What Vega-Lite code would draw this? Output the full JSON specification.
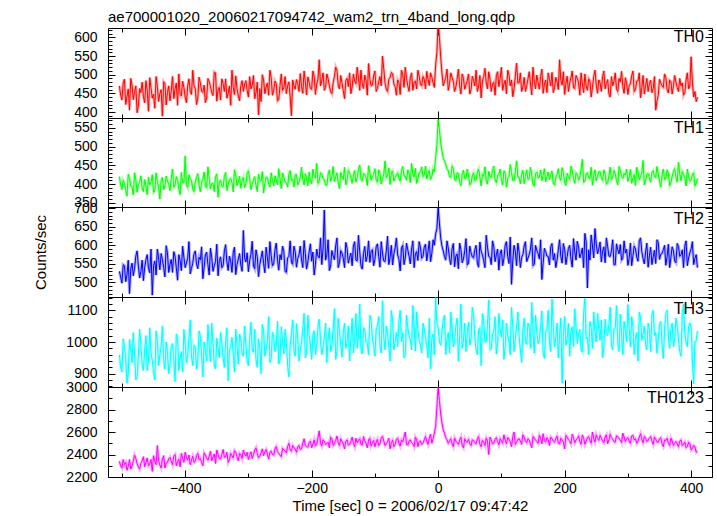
{
"$schema": "https://vega.github.io/schema/vega-lite/v6.json",
"padding": {"left": 32, "top": 10, "right": 5, "bottom": 0},
"spacing": 0,
"bounds": "flush",
"title": {"text": "ae700001020_20060217094742_wam2_trn_4band_long.qdp", "anchor": "start", "frame": "group", "offset": 2, "fontSize": 15, "fontWeight": "normal", "font": "Liberation Sans", "color": "#000"},
"config": {
  "view": {"stroke": "#000", "strokeWidth": 1},
  "font": "Liberation Sans",
  "axis": {"domain": false, "grid": false, "tickColor": "#000", "tickWidth": 1, "labelFont": "Liberation Sans", "labelFontSize": 14, "labelColor": "#000", "titleFont": "Liberation Sans", "titleFontSize": 15, "titleFontWeight": "normal", "titleColor": "#000", "labelOverlap": false, "labelFlush": false}
},
"data": {"values": [
{"t":-504,"a":470,"b":420,"c":530,"d":960,"e":2340},
{"t":-500,"a":432,"b":385,"c":498,"d":905,"e":2280},
{"t":-496,"a":488,"b":402,"c":545,"d":985,"e":2310},
{"t":-492,"a":441,"b":368,"c":520,"d":870,"e":2260},
{"t":-488,"a":405,"b":415,"c":470,"d":1008,"e":2355},
{"t":-484,"a":472,"b":393,"c":552,"d":935,"e":2300},
{"t":-480,"a":455,"b":430,"c":538,"d":962,"e":2395},
{"t":-476,"a":398,"b":378,"c":585,"d":890,"e":2320},
{"t":-472,"a":463,"b":404,"c":512,"d":1040,"e":2270},
{"t":-468,"a":480,"b":389,"c":560,"d":928,"e":2345},
{"t":-464,"a":425,"b":412,"c":541,"d":975,"e":2290},
{"t":-460,"a":458,"b":372,"c":575,"d":910,"e":2370},
{"t":-456,"a":492,"b":398,"c":526,"d":1045,"e":2315},
{"t":-452,"a":437,"b":425,"c":466,"d":942,"e":2250},
{"t":-448,"a":410,"b":381,"c":558,"d":880,"e":2340},
{"t":-444,"a":468,"b":406,"c":590,"d":1002,"e":2480},
{"t":-440,"a":449,"b":360,"c":534,"d":958,"e":2305},
{"t":-436,"a":389,"b":418,"c":562,"d":1050,"e":2360},
{"t":-432,"a":476,"b":395,"c":515,"d":915,"e":2280},
{"t":-428,"a":452,"b":408,"c":580,"d":968,"e":2330},
{"t":-424,"a":430,"b":383,"c":548,"d":930,"e":2375},
{"t":-420,"a":495,"b":440,"c":527,"d":995,"e":2310},
{"t":-416,"a":461,"b":397,"c":571,"d":875,"e":2400},
{"t":-412,"a":418,"b":410,"c":506,"d":1012,"e":2335},
{"t":-408,"a":447,"b":372,"c":559,"d":948,"e":2290},
{"t":-404,"a":483,"b":403,"c":598,"d":905,"e":2365},
{"t":-400,"a":440,"b":475,"c":540,"d":990,"e":2420},
{"t":-396,"a":470,"b":391,"c":565,"d":960,"e":2350},
{"t":-392,"a":455,"b":414,"c":523,"d":1070,"e":2310},
{"t":-388,"a":512,"b":386,"c":552,"d":925,"e":2385},
{"t":-384,"a":462,"b":405,"c":585,"d":985,"e":2340},
{"t":-380,"a":438,"b":428,"c":537,"d":945,"e":2410},
{"t":-376,"a":478,"b":380,"c":561,"d":1018,"e":2365},
{"t":-372,"a":452,"b":412,"c":510,"d":890,"e":2300},
{"t":-368,"a":425,"b":395,"c":574,"d":972,"e":2395},
{"t":-364,"a":490,"b":446,"c":548,"d":1055,"e":2350},
{"t":-360,"a":468,"b":388,"c":592,"d":938,"e":2430},
{"t":-356,"a":444,"b":402,"c":530,"d":996,"e":2375},
{"t":-352,"a":505,"b":420,"c":556,"d":915,"e":2320},
{"t":-348,"a":459,"b":365,"c":518,"d":980,"e":2400},
{"t":-344,"a":432,"b":410,"c":569,"d":1030,"e":2360},
{"t":-340,"a":476,"b":392,"c":545,"d":950,"e":2445},
{"t":-336,"a":489,"b":431,"c":602,"d":1002,"e":2380},
{"t":-332,"a":450,"b":398,"c":532,"d":878,"e":2330},
{"t":-328,"a":418,"b":415,"c":558,"d":985,"e":2410},
{"t":-324,"a":466,"b":379,"c":580,"d":962,"e":2370},
{"t":-320,"a":497,"b":424,"c":521,"d":1040,"e":2420},
{"t":-316,"a":443,"b":405,"c":563,"d":930,"e":2345},
{"t":-312,"a":471,"b":389,"c":547,"d":1008,"e":2395},
{"t":-308,"a":455,"b":418,"c":640,"d":955,"e":2440},
{"t":-304,"a":484,"b":402,"c":555,"d":990,"e":2385},
{"t":-300,"a":440,"b":435,"c":529,"d":925,"e":2355},
{"t":-296,"a":462,"b":385,"c":576,"d":1062,"e":2425},
{"t":-292,"a":498,"b":411,"c":544,"d":968,"e":2400},
{"t":-288,"a":451,"b":397,"c":588,"d":945,"e":2460},
{"t":-284,"a":392,"b":426,"c":516,"d":1010,"e":2370},
{"t":-280,"a":428,"b":408,"c":566,"d":900,"e":2415},
{"t":-276,"a":486,"b":376,"c":551,"d":1035,"e":2390},
{"t":-272,"a":467,"b":419,"c":595,"d":975,"e":2445},
{"t":-268,"a":445,"b":400,"c":538,"d":1080,"e":2360},
{"t":-264,"a":492,"b":430,"c":572,"d":948,"e":2430},
{"t":-260,"a":458,"b":395,"c":549,"d":1015,"e":2395},
{"t":-256,"a":476,"b":412,"c":606,"d":985,"e":2470},
{"t":-252,"a":433,"b":441,"c":533,"d":930,"e":2410},
{"t":-248,"a":502,"b":388,"c":561,"d":1048,"e":2380},
{"t":-244,"a":465,"b":418,"c":584,"d":962,"e":2440},
{"t":-240,"a":449,"b":403,"c":527,"d":1005,"e":2415},
{"t":-236,"a":481,"b":427,"c":570,"d":890,"e":2500},
{"t":-232,"a":390,"b":410,"c":554,"d":1025,"e":2430},
{"t":-228,"a":470,"b":392,"c":598,"d":972,"e":2460},
{"t":-224,"a":487,"b":425,"c":541,"d":1058,"e":2420},
{"t":-220,"a":455,"b":406,"c":575,"d":940,"e":2480},
{"t":-216,"a":468,"b":445,"c":560,"d":1000,"e":2450},
{"t":-212,"a":510,"b":398,"c":613,"d":1090,"e":2540},
{"t":-208,"a":446,"b":416,"c":536,"d":965,"e":2470},
{"t":-204,"a":479,"b":432,"c":582,"d":1020,"e":2505},
{"t":-200,"a":461,"b":401,"c":557,"d":945,"e":2460},
{"t":-196,"a":496,"b":420,"c":520,"d":1035,"e":2530},
{"t":-192,"a":475,"b":455,"c":590,"d":988,"e":2490},
{"t":-188,"a":540,"b":409,"c":566,"d":1072,"e":2610},
{"t":-184,"a":483,"b":427,"c":548,"d":960,"e":2475},
{"t":-180,"a":458,"b":412,"c":695,"d":1012,"e":2520},
{"t":-176,"a":502,"b":396,"c":574,"d":935,"e":2495},
{"t":-172,"a":470,"b":438,"c":532,"d":1045,"e":2460},
{"t":-168,"a":449,"b":419,"c":586,"d":990,"e":2540},
{"t":-164,"a":495,"b":407,"c":561,"d":1105,"e":2500},
{"t":-160,"a":512,"b":430,"c":620,"d":970,"e":2565},
{"t":-156,"a":462,"b":388,"c":553,"d":1028,"e":2480},
{"t":-152,"a":478,"b":422,"c":579,"d":952,"e":2515},
{"t":-148,"a":436,"b":445,"c":540,"d":1060,"e":2450},
{"t":-144,"a":490,"b":411,"c":592,"d":1000,"e":2530},
{"t":-140,"a":505,"b":428,"c":567,"d":940,"e":2490},
{"t":-136,"a":467,"b":402,"c":545,"d":1075,"e":2555},
{"t":-132,"a":483,"b":436,"c":610,"d":1015,"e":2470},
{"t":-128,"a":520,"b":418,"c":558,"d":980,"e":2505},
{"t":-124,"a":458,"b":451,"c":583,"d":1120,"e":2540},
{"t":-120,"a":476,"b":409,"c":536,"d":962,"e":2485},
{"t":-116,"a":499,"b":425,"c":597,"d":1038,"e":2520},
{"t":-112,"a":445,"b":396,"c":571,"d":995,"e":2460},
{"t":-108,"a":488,"b":432,"c":554,"d":1085,"e":2545},
{"t":-104,"a":472,"b":420,"c":588,"d":1010,"e":2500},
{"t":-100,"a":510,"b":441,"c":562,"d":955,"e":2470},
{"t":-96,"a":463,"b":405,"c":604,"d":1050,"e":2535},
{"t":-92,"a":495,"b":428,"c":541,"d":988,"e":2495},
{"t":-88,"a":550,"b":415,"c":579,"d":1130,"e":2560},
{"t":-84,"a":478,"b":462,"c":556,"d":975,"e":2480},
{"t":-80,"a":455,"b":422,"c":625,"d":1025,"e":2515},
{"t":-76,"a":492,"b":399,"c":568,"d":940,"e":2450},
{"t":-72,"a":503,"b":435,"c":547,"d":1068,"e":2525},
{"t":-68,"a":468,"b":418,"c":593,"d":1002,"e":2490},
{"t":-64,"a":486,"b":430,"c":574,"d":985,"e":2545},
{"t":-60,"a":447,"b":409,"c":531,"d":1100,"e":2475},
{"t":-56,"a":501,"b":447,"c":600,"d":1030,"e":2510},
{"t":-52,"a":520,"b":421,"c":566,"d":960,"e":2600},
{"t":-48,"a":470,"b":438,"c":588,"d":1045,"e":2485},
{"t":-44,"a":492,"b":404,"c":550,"d":1008,"e":2530},
{"t":-40,"a":458,"b":426,"c":612,"d":1115,"e":2495},
{"t":-36,"a":483,"b":442,"c":577,"d":972,"e":2555},
{"t":-32,"a":512,"b":415,"c":559,"d":1040,"e":2470},
{"t":-28,"a":475,"b":433,"c":595,"d":990,"e":2520},
{"t":-24,"a":495,"b":420,"c":570,"d":1060,"e":2500},
{"t":-20,"a":462,"b":448,"c":603,"d":1015,"e":2560},
{"t":-16,"a":487,"b":428,"c":584,"d":950,"e":2490},
{"t":-12,"a":505,"b":412,"c":556,"d":915,"e":2580},
{"t":-8,"a":478,"b":440,"c":615,"d":1025,"e":2540},
{"t":-4,"a":525,"b":470,"c":630,"d":1140,"e":2650},
{"t":0,"a":640,"b":572,"c":702,"d":1045,"e":3000},
{"t":4,"a":548,"b":510,"c":620,"d":990,"e":2760},
{"t":8,"a":470,"b":470,"c":585,"d":1070,"e":2620},
{"t":12,"a":492,"b":452,"c":560,"d":960,"e":2550},
{"t":16,"a":458,"b":435,"c":592,"d":1030,"e":2500},
{"t":20,"a":505,"b":418,"c":548,"d":1095,"e":2540},
{"t":24,"a":482,"b":442,"c":605,"d":985,"e":2470},
{"t":28,"a":467,"b":409,"c":571,"d":1050,"e":2520},
{"t":32,"a":515,"b":428,"c":537,"d":940,"e":2490},
{"t":36,"a":448,"b":396,"c":589,"d":1120,"e":2555},
{"t":40,"a":490,"b":437,"c":563,"d":1005,"e":2460},
{"t":44,"a":473,"b":415,"c":618,"d":970,"e":2515},
{"t":48,"a":502,"b":423,"c":552,"d":1062,"e":2535},
{"t":52,"a":460,"b":402,"c":580,"d":1010,"e":2480},
{"t":56,"a":485,"b":430,"c":566,"d":1085,"e":2525},
{"t":60,"a":512,"b":412,"c":600,"d":975,"e":2495},
{"t":64,"a":470,"b":440,"c":541,"d":1040,"e":2560},
{"t":68,"a":438,"b":395,"c":584,"d":925,"e":2470},
{"t":72,"a":495,"b":421,"c":559,"d":1068,"e":2510},
{"t":76,"a":478,"b":408,"c":627,"d":1000,"e":2545},
{"t":80,"a":508,"b":434,"c":570,"d":1132,"e":2400},
{"t":84,"a":455,"b":418,"c":548,"d":980,"e":2530},
{"t":88,"a":480,"b":448,"c":596,"d":1035,"e":2500},
{"t":92,"a":497,"b":404,"c":575,"d":962,"e":2550},
{"t":96,"a":468,"b":427,"c":533,"d":1090,"e":2485},
{"t":100,"a":520,"b":413,"c":588,"d":1015,"e":2520},
{"t":104,"a":475,"b":436,"c":564,"d":945,"e":2575},
{"t":108,"a":449,"b":392,"c":610,"d":1060,"e":2495},
{"t":112,"a":500,"b":420,"c":551,"d":1002,"e":2535},
{"t":116,"a":486,"b":431,"c":495,"d":1110,"e":2470},
{"t":120,"a":462,"b":409,"c":600,"d":970,"e":2600},
{"t":124,"a":531,"b":462,"c":545,"d":1045,"e":2510},
{"t":128,"a":478,"b":418,"c":582,"d":1018,"e":2540},
{"t":132,"a":455,"b":426,"c":567,"d":935,"e":2490},
{"t":136,"a":493,"b":401,"c":598,"d":1075,"e":2555},
{"t":140,"a":470,"b":438,"c":556,"d":992,"e":2505},
{"t":144,"a":508,"b":415,"c":575,"d":1050,"e":2530},
{"t":148,"a":446,"b":424,"c":620,"d":1125,"e":2460},
{"t":152,"a":482,"b":395,"c":549,"d":965,"e":2545},
{"t":156,"a":499,"b":432,"c":586,"d":1030,"e":2515},
{"t":160,"a":461,"b":418,"c":563,"d":1008,"e":2570},
{"t":164,"a":515,"b":409,"c":508,"d":1098,"e":2495},
{"t":168,"a":475,"b":441,"c":592,"d":948,"e":2525},
{"t":172,"a":452,"b":420,"c":571,"d":1042,"e":2550},
{"t":176,"a":488,"b":412,"c":547,"d":1000,"e":2480},
{"t":180,"a":506,"b":435,"c":605,"d":1135,"e":2540},
{"t":184,"a":465,"b":398,"c":578,"d":985,"e":2510},
{"t":188,"a":480,"b":426,"c":560,"d":1060,"e":2565},
{"t":192,"a":540,"b":417,"c":615,"d":1020,"e":2495},
{"t":196,"a":472,"b":444,"c":552,"d":870,"e":2530},
{"t":200,"a":447,"b":405,"c":589,"d":1080,"e":2450},
{"t":204,"a":496,"b":429,"c":570,"d":1012,"e":2555},
{"t":208,"a":478,"b":413,"c":600,"d":955,"e":2520},
{"t":212,"a":510,"b":437,"c":541,"d":1048,"e":2580},
{"t":216,"a":463,"b":402,"c":582,"d":1105,"e":2505},
{"t":220,"a":490,"b":425,"c":611,"d":995,"e":2540},
{"t":224,"a":445,"b":419,"c":566,"d":1040,"e":2515},
{"t":228,"a":475,"b":466,"c":593,"d":968,"e":2575},
{"t":232,"a":502,"b":408,"c":632,"d":1138,"e":2490},
{"t":236,"a":458,"b":430,"c":485,"d":1015,"e":2550},
{"t":240,"a":483,"b":414,"c":560,"d":1065,"e":2525},
{"t":244,"a":466,"b":397,"c":598,"d":980,"e":2600},
{"t":248,"a":512,"b":438,"c":645,"d":1030,"e":2510},
{"t":252,"a":450,"b":421,"c":577,"d":1090,"e":2545},
{"t":256,"a":478,"b":433,"c":609,"d":1005,"e":2570},
{"t":260,"a":495,"b":410,"c":584,"d":950,"e":2520},
{"t":264,"a":462,"b":426,"c":553,"d":1072,"e":2555},
{"t":268,"a":487,"b":404,"c":597,"d":1020,"e":2495},
{"t":272,"a":440,"b":445,"c":570,"d":1110,"e":2580},
{"t":276,"a":470,"b":419,"c":615,"d":975,"e":2535},
{"t":280,"a":505,"b":428,"c":548,"d":1045,"e":2510},
{"t":284,"a":455,"b":398,"c":588,"d":1000,"e":2560},
{"t":288,"a":480,"b":436,"c":602,"d":1088,"e":2530},
{"t":292,"a":468,"b":415,"c":565,"d":960,"e":2590},
{"t":296,"a":492,"b":424,"c":579,"d":1035,"e":2515},
{"t":300,"a":447,"b":407,"c":546,"d":1118,"e":2550},
{"t":304,"a":476,"b":439,"c":606,"d":985,"e":2500},
{"t":308,"a":510,"b":417,"c":572,"d":1050,"e":2570},
{"t":312,"a":460,"b":396,"c":590,"d":1012,"e":2540},
{"t":316,"a":483,"b":432,"c":557,"d":940,"e":2520},
{"t":320,"a":438,"b":420,"c":620,"d":1078,"e":2585},
{"t":324,"a":498,"b":463,"c":564,"d":1025,"e":2505},
{"t":328,"a":470,"b":411,"c":582,"d":992,"e":2545},
{"t":332,"a":455,"b":428,"c":541,"d":1060,"e":2525},
{"t":336,"a":485,"b":405,"c":595,"d":970,"e":2560},
{"t":340,"a":462,"b":436,"c":569,"d":1100,"e":2490},
{"t":344,"a":405,"b":418,"c":551,"d":1030,"e":2535},
{"t":348,"a":445,"b":426,"c":608,"d":1005,"e":2510},
{"t":352,"a":478,"b":392,"c":576,"d":1065,"e":2550},
{"t":356,"a":466,"b":440,"c":588,"d":948,"e":2470},
{"t":360,"a":492,"b":415,"c":546,"d":1090,"e":2525},
{"t":364,"a":451,"b":429,"c":603,"d":1018,"e":2500},
{"t":368,"a":482,"b":403,"c":567,"d":1040,"e":2545},
{"t":372,"a":470,"b":434,"c":585,"d":985,"e":2480},
{"t":376,"a":480,"b":418,"c":553,"d":1075,"e":2515},
{"t":380,"a":455,"b":458,"c":597,"d":1010,"e":2470},
{"t":384,"a":470,"b":409,"c":574,"d":955,"e":2530},
{"t":388,"a":445,"b":426,"c":540,"d":1120,"e":2490},
{"t":392,"a":486,"b":395,"c":612,"d":1000,"e":2460},
{"t":396,"a":462,"b":420,"c":566,"d":1050,"e":2510},
{"t":400,"a":548,"b":412,"c":590,"d":1045,"e":2440},
{"t":404,"a":440,"b":430,"c":548,"d":868,"e":2480},
{"t":408,"a":428,"b":402,"c":575,"d":1005,"e":2420},
{"t":-502,"a":445,"b":398,"c":515,"d":920,"e":2300},
{"t":-498,"a":478,"b":410,"c":548,"d":1010,"e":2355},
{"t":-494,"a":420,"b":383,"c":502,"d":945,"e":2330},
{"t":-490,"a":462,"b":426,"c":560,"d":900,"e":2295},
{"t":-486,"a":490,"b":395,"c":537,"d":975,"e":2270},
{"t":-482,"a":433,"b":371,"c":518,"d":1030,"e":2340},
{"t":-478,"a":470,"b":412,"c":571,"d":880,"e":2365},
{"t":-474,"a":415,"b":400,"c":545,"d":955,"e":2290},
{"t":-470,"a":452,"b":422,"c":530,"d":990,"e":2320},
{"t":-466,"a":441,"b":380,"c":505,"d":910,"e":2380},
{"t":-462,"a":484,"b":395,"c":562,"d":1020,"e":2330},
{"t":-458,"a":402,"b":418,"c":538,"d":940,"e":2300},
{"t":-454,"a":465,"b":404,"c":590,"d":965,"e":2355},
{"t":-450,"a":448,"b":378,"c":545,"d":905,"e":2390},
{"t":-446,"a":495,"b":430,"c":520,"d":1035,"e":2310},
{"t":-442,"a":428,"b":392,"c":566,"d":925,"e":2345},
{"t":-438,"a":460,"b":410,"c":578,"d":985,"e":2280},
{"t":-434,"a":481,"b":385,"c":540,"d":940,"e":2390},
{"t":-430,"a":419,"b":421,"c":599,"d":1000,"e":2325},
{"t":-426,"a":470,"b":399,"c":527,"d":900,"e":2360},
{"t":-422,"a":455,"b":415,"c":562,"d":985,"e":2340},
{"t":-418,"a":436,"b":392,"c":583,"d":950,"e":2385},
{"t":-414,"a":478,"b":420,"c":540,"d":1025,"e":2300},
{"t":-410,"a":502,"b":386,"c":575,"d":910,"e":2360},
{"t":-406,"a":443,"b":431,"c":532,"d":970,"e":2410},
{"t":-402,"a":466,"b":405,"c":568,"d":1040,"e":2330},
{"t":-398,"a":425,"b":398,"c":552,"d":935,"e":2375},
{"t":-394,"a":489,"b":425,"c":610,"d":1010,"e":2395},
{"t":-390,"a":447,"b":410,"c":538,"d":955,"e":2350},
{"t":-386,"a":471,"b":380,"c":577,"d":990,"e":2330},
{"t":-382,"a":420,"b":418,"c":550,"d":915,"e":2390},
{"t":-378,"a":493,"b":396,"c":568,"d":1035,"e":2355},
{"t":-374,"a":456,"b":405,"c":596,"d":960,"e":2330},
{"t":-370,"a":472,"b":432,"c":541,"d":1000,"e":2415},
{"t":-366,"a":438,"b":390,"c":582,"d":940,"e":2370},
{"t":-362,"a":481,"b":414,"c":520,"d":985,"e":2385},
{"t":-358,"a":452,"b":401,"c":567,"d":1060,"e":2345},
{"t":-354,"a":507,"b":380,"c":545,"d":925,"e":2405},
{"t":-350,"a":429,"b":427,"c":603,"d":1012,"e":2440},
{"t":-346,"a":466,"b":408,"c":559,"d":950,"e":2365},
{"t":-342,"a":489,"b":395,"c":540,"d":995,"e":2400},
{"t":-338,"a":455,"b":420,"c":585,"d":920,"e":2375},
{"t":-334,"a":437,"b":383,"c":555,"d":1045,"e":2420},
{"t":-330,"a":470,"b":412,"c":571,"d":975,"e":2355},
{"t":-326,"a":512,"b":404,"c":527,"d":1015,"e":2390},
{"t":-322,"a":447,"b":438,"c":595,"d":905,"e":2435},
{"t":-318,"a":462,"b":396,"c":548,"d":990,"e":2380},
{"t":-314,"a":430,"b":421,"c":578,"d":1025,"e":2410},
{"t":-310,"a":484,"b":410,"c":530,"d":965,"e":2365},
{"t":-306,"a":475,"b":390,"c":566,"d":1050,"e":2405},
{"t":-302,"a":458,"b":428,"c":580,"d":940,"e":2420},
{"t":-298,"a":495,"b":414,"c":559,"d":1010,"e":2390},
{"t":-294,"a":472,"b":399,"c":611,"d":975,"e":2365},
{"t":-290,"a":436,"b":420,"c":537,"d":1040,"e":2440},
{"t":-286,"a":480,"b":380,"c":570,"d":920,"e":2410},
{"t":-282,"a":463,"b":412,"c":548,"d":985,"e":2385},
{"t":-278,"a":500,"b":433,"c":585,"d":1055,"e":2450},
{"t":-274,"a":449,"b":402,"c":526,"d":955,"e":2425},
{"t":-270,"a":478,"b":417,"c":567,"d":1005,"e":2400},
{"t":-266,"a":512,"b":392,"c":610,"d":935,"e":2420},
{"t":-262,"a":445,"b":410,"c":545,"d":1030,"e":2400},
{"t":-258,"a":483,"b":422,"c":588,"d":970,"e":2450},
{"t":-254,"a":430,"b":398,"c":560,"d":1065,"e":2425},
{"t":-250,"a":471,"b":415,"c":575,"d":945,"e":2395},
{"t":-246,"a":458,"b":430,"c":598,"d":1000,"e":2455},
{"t":-242,"a":495,"b":405,"c":530,"d":1040,"e":2435},
{"t":-238,"a":470,"b":392,"c":566,"d":925,"e":2470},
{"t":-234,"a":442,"b":436,"c":612,"d":990,"e":2440},
{"t":-230,"a":486,"b":414,"c":549,"d":1070,"e":2480},
{"t":-226,"a":461,"b":425,"c":583,"d":955,"e":2450},
{"t":-222,"a":476,"b":398,"c":565,"d":1010,"e":2470},
{"t":-218,"a":503,"b":418,"c":598,"d":975,"e":2445},
{"t":-214,"a":450,"b":412,"c":540,"d":1040,"e":2500},
{"t":-210,"a":481,"b":428,"c":578,"d":950,"e":2480},
{"t":-206,"a":494,"b":395,"c":555,"d":1085,"e":2465},
{"t":-202,"a":463,"b":409,"c":604,"d":990,"e":2520},
{"t":-198,"a":510,"b":440,"c":582,"d":1025,"e":2495},
{"t":-194,"a":447,"b":416,"c":549,"d":960,"e":2475},
{"t":-190,"a":488,"b":402,"c":571,"d":1050,"e":2550},
{"t":-186,"a":470,"b":430,"c":620,"d":1005,"e":2500},
{"t":-182,"a":505,"b":414,"c":590,"d":985,"e":2530},
{"t":-178,"a":466,"b":398,"c":560,"d":1060,"e":2490},
{"t":-174,"a":489,"b":426,"c":615,"d":1010,"e":2510},
{"t":-170,"a":455,"b":408,"c":545,"d":970,"e":2555},
{"t":-166,"a":478,"b":447,"c":571,"d":1040,"e":2480},
{"t":-162,"a":520,"b":420,"c":598,"d":945,"e":2525},
{"t":-158,"a":471,"b":405,"c":540,"d":1075,"e":2505},
{"t":-154,"a":498,"b":431,"c":586,"d":995,"e":2540},
{"t":-150,"a":457,"b":412,"c":565,"d":1030,"e":2495},
{"t":-146,"a":485,"b":398,"c":608,"d":980,"e":2520},
{"t":-142,"a":468,"b":436,"c":552,"d":1050,"e":2485},
{"t":-138,"a":449,"b":417,"c":579,"d":1010,"e":2515},
{"t":-134,"a":502,"b":425,"c":598,"d":965,"e":2500},
{"t":-130,"a":476,"b":405,"c":560,"d":1090,"e":2545},
{"t":-126,"a":491,"b":440,"c":627,"d":1020,"e":2525},
{"t":-122,"a":512,"b":412,"c":545,"d":975,"e":2490},
{"t":-118,"a":463,"b":428,"c":578,"d":1045,"e":2560},
{"t":-114,"a":485,"b":418,"c":556,"d":1000,"e":2500},
{"t":-110,"a":530,"b":449,"c":612,"d":960,"e":2530},
{"t":-106,"a":470,"b":410,"c":584,"d":1070,"e":2475},
{"t":-102,"a":497,"b":426,"c":545,"d":990,"e":2525},
{"t":-98,"a":455,"b":412,"c":596,"d":1040,"e":2510},
{"t":-94,"a":482,"b":438,"c":570,"d":1080,"e":2480},
{"t":-90,"a":470,"b":400,"c":610,"d":965,"e":2550},
{"t":-86,"a":515,"b":425,"c":558,"d":1015,"e":2520},
{"t":-82,"a":461,"b":417,"c":585,"d":1050,"e":2495},
{"t":-78,"a":488,"b":443,"c":548,"d":990,"e":2545},
{"t":-74,"a":506,"b":430,"c":600,"d":1100,"e":2505},
{"t":-70,"a":475,"b":408,"c":577,"d":975,"e":2470},
{"t":-66,"a":445,"b":424,"c":620,"d":1030,"e":2535},
{"t":-62,"a":479,"b":415,"c":562,"d":1065,"e":2500},
{"t":-58,"a":512,"b":436,"c":593,"d":1000,"e":2530},
{"t":-54,"a":466,"b":422,"c":548,"d":950,"e":2555},
{"t":-50,"a":490,"b":410,"c":606,"d":1085,"e":2490},
{"t":-46,"a":455,"b":428,"c":571,"d":1020,"e":2520},
{"t":-42,"a":505,"b":455,"c":590,"d":975,"e":2505},
{"t":-38,"a":480,"b":419,"c":540,"d":1050,"e":2470},
{"t":-34,"a":462,"b":402,"c":583,"d":1095,"e":2535},
{"t":-30,"a":496,"b":430,"c":610,"d":1005,"e":2515},
{"t":-26,"a":470,"b":446,"c":565,"d":965,"e":2490},
{"t":-22,"a":488,"b":425,"c":595,"d":1040,"e":2530},
{"t":-18,"a":509,"b":414,"c":558,"d":990,"e":2520},
{"t":-14,"a":471,"b":436,"c":612,"d":1075,"e":2545},
{"t":-10,"a":493,"b":421,"c":578,"d":1010,"e":2500},
{"t":-6,"a":466,"b":432,"c":600,"d":960,"e":2590},
{"t":-2,"a":560,"b":505,"c":645,"d":1060,"e":2820},
{"t":2,"a":600,"b":545,"c":660,"d":1000,"e":2880},
{"t":6,"a":505,"b":488,"c":598,"d":1030,"e":2680},
{"t":10,"a":482,"b":462,"c":570,"d":1085,"e":2590},
{"t":14,"a":515,"b":440,"c":612,"d":1010,"e":2530},
{"t":18,"a":476,"b":420,"c":565,"d":965,"e":2520},
{"t":22,"a":493,"b":448,"c":590,"d":1050,"e":2495},
{"t":26,"a":455,"b":412,"c":542,"d":1000,"e":2545},
{"t":30,"a":488,"b":430,"c":577,"d":1075,"e":2505},
{"t":34,"a":470,"b":405,"c":606,"d":1020,"e":2530},
{"t":38,"a":502,"b":427,"c":553,"d":980,"e":2480},
{"t":42,"a":461,"b":415,"c":585,"d":1060,"e":2540},
{"t":46,"a":484,"b":440,"c":547,"d":1030,"e":2510},
{"t":50,"a":448,"b":398,"c":598,"d":990,"e":2495},
{"t":54,"a":496,"b":422,"c":569,"d":1110,"e":2530},
{"t":58,"a":470,"b":409,"c":588,"d":1015,"e":2505},
{"t":62,"a":455,"b":432,"c":552,"d":960,"e":2540},
{"t":66,"a":498,"b":418,"c":609,"d":1045,"e":2490},
{"t":70,"a":482,"b":426,"c":575,"d":1090,"e":2525},
{"t":74,"a":517,"b":446,"c":540,"d":1000,"e":2480},
{"t":78,"a":462,"b":400,"c":595,"d":1055,"e":2520},
{"t":82,"a":488,"b":420,"c":568,"d":975,"e":2555},
{"t":86,"a":475,"b":437,"c":612,"d":1025,"e":2495},
{"t":90,"a":445,"b":411,"c":556,"d":1080,"e":2535},
{"t":94,"a":508,"b":424,"c":590,"d":995,"e":2515},
{"t":98,"a":490,"b":440,"c":578,"d":1040,"e":2540},
{"t":102,"a":458,"b":398,"c":545,"d":1070,"e":2500},
{"t":106,"a":485,"b":428,"c":600,"d":985,"e":2525},
{"t":110,"a":512,"b":415,"c":570,"d":1020,"e":2550},
{"t":114,"a":470,"b":452,"c":622,"d":960,"e":2515},
{"t":118,"a":441,"b":410,"c":558,"d":1050,"e":2560},
{"t":122,"a":496,"b":433,"c":584,"d":1010,"e":2490},
{"t":126,"a":478,"b":419,"c":606,"d":1095,"e":2535},
{"t":130,"a":505,"b":401,"c":540,"d":975,"e":2520},
{"t":134,"a":467,"b":437,"c":575,"d":1040,"e":2575},
{"t":138,"a":455,"b":420,"c":610,"d":1005,"e":2520},
{"t":142,"a":489,"b":412,"c":566,"d":1060,"e":2540},
{"t":146,"a":475,"b":445,"c":590,"d":980,"e":2495},
{"t":150,"a":520,"b":398,"c":545,"d":1030,"e":2560},
{"t":154,"a":462,"b":428,"c":600,"d":1085,"e":2530},
{"t":158,"a":480,"b":416,"c":578,"d":995,"e":2500},
{"t":162,"a":495,"b":437,"c":615,"d":1050,"e":2545},
{"t":166,"a":450,"b":424,"c":552,"d":965,"e":2585},
{"t":170,"a":486,"b":406,"c":583,"d":1030,"e":2510},
{"t":174,"a":505,"b":432,"c":570,"d":1100,"e":2530},
{"t":178,"a":470,"b":425,"c":596,"d":970,"e":2555},
{"t":182,"a":452,"b":402,"c":560,"d":1045,"e":2520},
{"t":186,"a":493,"b":418,"c":540,"d":1015,"e":2540},
{"t":190,"a":460,"b":441,"c":588,"d":950,"e":2500},
{"t":194,"a":485,"b":410,"c":570,"d":1075,"e":2545},
{"t":198,"a":508,"b":429,"c":605,"d":1020,"e":2510},
{"t":202,"a":476,"b":396,"c":548,"d":990,"e":2570},
{"t":206,"a":455,"b":420,"c":592,"d":1060,"e":2530},
{"t":210,"a":492,"b":448,"c":563,"d":1035,"e":2495},
{"t":214,"a":465,"b":415,"c":618,"d":985,"e":2545},
{"t":218,"a":498,"b":430,"c":560,"d":1050,"e":2530},
{"t":222,"a":478,"b":411,"c":595,"d":1025,"e":2565},
{"t":226,"a":505,"b":440,"c":577,"d":975,"e":2490},
{"t":230,"a":452,"b":405,"c":540,"d":1090,"e":2545},
{"t":234,"a":470,"b":427,"c":610,"d":1010,"e":2520},
{"t":238,"a":489,"b":418,"c":588,"d":960,"e":2560},
{"t":242,"a":440,"b":445,"c":628,"d":1045,"e":2500},
{"t":246,"a":495,"b":422,"c":566,"d":1095,"e":2540},
{"t":250,"a":472,"b":409,"c":604,"d":1000,"e":2575},
{"t":254,"a":486,"b":433,"c":590,"d":1040,"e":2525},
{"t":258,"a":455,"b":416,"c":555,"d":1070,"e":2545},
{"t":262,"a":510,"b":438,"c":596,"d":985,"e":2505},
{"t":266,"a":476,"b":400,"c":620,"d":1030,"e":2575},
{"t":270,"a":448,"b":423,"c":571,"d":1055,"e":2530},
{"t":274,"a":495,"b":412,"c":585,"d":990,"e":2550},
{"t":278,"a":482,"b":436,"c":548,"d":1040,"e":2515},
{"t":282,"a":462,"b":409,"c":604,"d":1115,"e":2565},
{"t":286,"a":490,"b":447,"c":577,"d":970,"e":2540},
{"t":290,"a":509,"b":420,"c":560,"d":1025,"e":2505},
{"t":294,"a":450,"b":428,"c":612,"d":1065,"e":2555},
{"t":298,"a":478,"b":440,"c":590,"d":1000,"e":2540},
{"t":302,"a":470,"b":418,"c":564,"d":1045,"e":2520},
{"t":306,"a":497,"b":402,"c":545,"d":1080,"e":2565},
{"t":310,"a":455,"b":425,"c":598,"d":960,"e":2530},
{"t":314,"a":483,"b":445,"c":568,"d":1030,"e":2500},
{"t":318,"a":505,"b":411,"c":612,"d":1095,"e":2555},
{"t":322,"a":465,"b":430,"c":583,"d":1005,"e":2535},
{"t":326,"a":448,"b":398,"c":550,"d":1050,"e":2560},
{"t":330,"a":490,"b":426,"c":606,"d":975,"e":2515},
{"t":334,"a":476,"b":417,"c":572,"d":1040,"e":2545},
{"t":338,"a":452,"b":431,"c":548,"d":1085,"e":2520},
{"t":342,"a":495,"b":420,"c":587,"d":1020,"e":2555},
{"t":346,"a":430,"b":447,"c":615,"d":965,"e":2510},
{"t":350,"a":488,"b":408,"c":562,"d":1055,"e":2540},
{"t":354,"a":470,"b":425,"c":578,"d":990,"e":2495},
{"t":358,"a":502,"b":412,"c":600,"d":1040,"e":2530},
{"t":362,"a":460,"b":438,"c":569,"d":1100,"e":2545},
{"t":366,"a":485,"b":396,"c":540,"d":980,"e":2480},
{"t":370,"a":448,"b":420,"c":596,"d":1060,"e":2520},
{"t":374,"a":498,"b":441,"c":558,"d":1010,"e":2505},
{"t":378,"a":466,"b":405,"c":605,"d":1045,"e":2495},
{"t":382,"a":490,"b":427,"c":570,"d":970,"e":2520},
{"t":386,"a":478,"b":433,"c":588,"d":1090,"e":2480},
{"t":390,"a":452,"b":415,"c":598,"d":1025,"e":2510},
{"t":394,"a":505,"b":440,"c":545,"d":985,"e":2470},
{"t":398,"a":470,"b":408,"c":580,"d":1060,"e":2495},
{"t":402,"a":480,"b":425,"c":610,"d":940,"e":2455},
{"t":406,"a":455,"b":395,"c":565,"d":1000,"e":2470},
{"t":410,"a":440,"b":415,"c":540,"d":1035,"e":2430}
]},
"vconcat": [
{
 "width": 604, "height": 90,
 "title": {"text": "TH0", "anchor": "end", "frame": "group", "baseline": "top", "offset": -17, "dx": -8, "fontSize": 16, "fontWeight": "normal", "font": "Liberation Sans", "color": "#000"},
 "layer": [
  {"mark": {"type": "line", "color": "#ff0000", "strokeWidth": 3, "opacity": 0.3, "clip": true},
   "encoding": {
    "x": {"field": "t", "type": "quantitative", "scale": {"domain": [-522, 433], "nice": false, "zero": false}, "axis": {"orient": "bottom", "values": [-400, -200, 0, 200, 400], "tickSize": -7, "labels": false, "title": null}},
    "y": {"field": "a", "type": "quantitative", "scale": {"domain": [384, 625], "nice": false, "zero": false}, "axis": {"orient": "left", "values": [400, 450, 500, 550, 600], "tickSize": -7, "labelPadding": 18, "title": null}}}},
  {"mark": {"type": "line", "color": "#ff0000", "strokeWidth": 1, "clip": true},
   "encoding": {
    "x": {"field": "t", "type": "quantitative", "axis": {"orient": "top", "values": [-400, -200, 0, 200, 400], "tickSize": -7, "labels": false, "title": null}},
    "y": {"field": "a", "type": "quantitative", "axis": {"orient": "right", "values": [400, 450, 500, 550, 600], "tickSize": -7, "labels": false, "title": null}}}},
  {"mark": {"type": "line", "strokeOpacity": 0, "clip": true},
   "encoding": {
    "x": {"field": "t", "type": "quantitative", "axis": {"orient": "bottom", "values": [-500, -300, -100, 100, 300], "tickSize": -4, "labels": false, "title": null}},
    "y": {"field": "a", "type": "quantitative", "axis": {"orient": "left", "values": [390, 410, 420, 430, 440, 460, 470, 480, 490, 510, 520, 530, 540, 560, 570, 580, 590, 610, 620], "tickSize": -4, "labels": false, "title": null}}}},
  {"mark": {"type": "line", "strokeOpacity": 0, "clip": true},
   "encoding": {
    "x": {"field": "t", "type": "quantitative", "axis": {"orient": "top", "values": [-500, -300, -100, 100, 300], "tickSize": -4, "labels": false, "title": null}},
    "y": {"field": "a", "type": "quantitative", "axis": {"orient": "right", "values": [390, 410, 420, 430, 440, 460, 470, 480, 490, 510, 520, 530, 540, 560, 570, 580, 590, 610, 620], "tickSize": -4, "labels": false, "title": null}}}}
 ],
 "resolve": {"axis": {"x": "independent", "y": "independent"}}
},
{
 "width": 604, "height": 89,
 "title": {"text": "TH1", "anchor": "end", "frame": "group", "baseline": "top", "offset": -18, "dx": -8, "fontSize": 16, "fontWeight": "normal", "font": "Liberation Sans", "color": "#000"},
 "layer": [
  {"mark": {"type": "line", "color": "#00ff00", "strokeWidth": 3, "opacity": 0.3, "clip": true},
   "encoding": {
    "x": {"field": "t", "type": "quantitative", "scale": {"domain": [-522, 433], "nice": false, "zero": false}, "axis": {"orient": "bottom", "values": [-400, -200, 0, 200, 400], "tickSize": -7, "labels": false, "title": null}},
    "y": {"field": "b", "type": "quantitative", "scale": {"domain": [339, 576], "nice": false, "zero": false}, "axis": {"orient": "left", "values": [350, 400, 450, 500, 550], "tickSize": -7, "labelPadding": 18, "title": null}}}},
  {"mark": {"type": "line", "color": "#00ff00", "strokeWidth": 1, "clip": true},
   "encoding": {
    "x": {"field": "t", "type": "quantitative", "axis": {"orient": "top", "values": [-400, -200, 0, 200, 400], "tickSize": -7, "labels": false, "title": null}},
    "y": {"field": "b", "type": "quantitative", "axis": {"orient": "right", "values": [350, 400, 450, 500, 550], "tickSize": -7, "labels": false, "title": null}}}},
  {"mark": {"type": "line", "strokeOpacity": 0, "clip": true},
   "encoding": {
    "x": {"field": "t", "type": "quantitative", "axis": {"orient": "bottom", "values": [-500, -300, -100, 100, 300], "tickSize": -4, "labels": false, "title": null}},
    "y": {"field": "b", "type": "quantitative", "axis": {"orient": "left", "values": [340, 360, 370, 380, 390, 410, 420, 430, 440, 460, 470, 480, 490, 510, 520, 530, 540, 560, 570], "tickSize": -4, "labels": false, "title": null}}}},
  {"mark": {"type": "line", "strokeOpacity": 0, "clip": true},
   "encoding": {
    "x": {"field": "t", "type": "quantitative", "axis": {"orient": "top", "values": [-500, -300, -100, 100, 300], "tickSize": -4, "labels": false, "title": null}},
    "y": {"field": "b", "type": "quantitative", "axis": {"orient": "right", "values": [340, 360, 370, 380, 390, 410, 420, 430, 440, 460, 470, 480, 490, 510, 520, 530, 540, 560, 570], "tickSize": -4, "labels": false, "title": null}}}}
 ],
 "resolve": {"axis": {"x": "independent", "y": "independent"}}
},
{
 "width": 604, "height": 90,
 "title": {"text": "TH2", "anchor": "end", "frame": "group", "baseline": "top", "offset": -25.5, "dx": -8, "fontSize": 16, "fontWeight": "normal", "font": "Liberation Sans", "color": "#000"},
 "layer": [
  {"mark": {"type": "line", "color": "#0000ff", "strokeWidth": 3, "opacity": 0.3, "clip": true},
   "encoding": {
    "x": {"field": "t", "type": "quantitative", "scale": {"domain": [-522, 433], "nice": false, "zero": false}, "axis": {"orient": "bottom", "values": [-400, -200, 0, 200, 400], "tickSize": -7, "labels": false, "title": null}},
    "y": {"field": "c", "type": "quantitative", "scale": {"domain": [461, 703], "nice": false, "zero": false}, "axis": {"orient": "left", "values": [500, 550, 600, 650, 700], "tickSize": -7, "labelPadding": 18, "title": "Counts/sec", "minExtent": 40, "maxExtent": 40, "titlePadding": 20}}}},
  {"mark": {"type": "line", "color": "#0000ff", "strokeWidth": 1, "clip": true},
   "encoding": {
    "x": {"field": "t", "type": "quantitative", "axis": {"orient": "top", "values": [-400, -200, 0, 200, 400], "tickSize": -7, "labels": false, "title": null}},
    "y": {"field": "c", "type": "quantitative", "axis": {"orient": "right", "values": [500, 550, 600, 650, 700], "tickSize": -7, "labels": false, "title": null}}}},
  {"mark": {"type": "line", "strokeOpacity": 0, "clip": true},
   "encoding": {
    "x": {"field": "t", "type": "quantitative", "axis": {"orient": "bottom", "values": [-500, -300, -100, 100, 300], "tickSize": -4, "labels": false, "title": null}},
    "y": {"field": "c", "type": "quantitative", "axis": {"orient": "left", "values": [470, 480, 490, 510, 520, 530, 540, 560, 570, 580, 590, 610, 620, 630, 640, 660, 670, 680, 690], "tickSize": -4, "labels": false, "title": null}}}},
  {"mark": {"type": "line", "strokeOpacity": 0, "clip": true},
   "encoding": {
    "x": {"field": "t", "type": "quantitative", "axis": {"orient": "top", "values": [-500, -300, -100, 100, 300], "tickSize": -4, "labels": false, "title": null}},
    "y": {"field": "c", "type": "quantitative", "axis": {"orient": "right", "values": [470, 480, 490, 510, 520, 530, 540, 560, 570, 580, 590, 610, 620, 630, 640, 660, 670, 680, 690], "tickSize": -4, "labels": false, "title": null}}}}
 ],
 "resolve": {"axis": {"x": "independent", "y": "independent"}}
},
{
 "width": 604, "height": 90,
 "title": {"text": "TH3", "anchor": "end", "frame": "group", "baseline": "top", "offset": -20.5, "dx": -8, "fontSize": 16, "fontWeight": "normal", "font": "Liberation Sans", "color": "#000"},
 "layer": [
  {"mark": {"type": "line", "color": "#00ffff", "strokeWidth": 3, "opacity": 0.3, "clip": true},
   "encoding": {
    "x": {"field": "t", "type": "quantitative", "scale": {"domain": [-522, 433], "nice": false, "zero": false}, "axis": {"orient": "bottom", "values": [-400, -200, 0, 200, 400], "tickSize": -7, "labels": false, "title": null}},
    "y": {"field": "d", "type": "quantitative", "scale": {"domain": [858, 1142], "nice": false, "zero": false}, "axis": {"orient": "left", "values": [900, 1000, 1100], "format": "d", "tickSize": -7, "labelPadding": 18, "title": null}}}},
  {"mark": {"type": "line", "color": "#00ffff", "strokeWidth": 1, "clip": true},
   "encoding": {
    "x": {"field": "t", "type": "quantitative", "axis": {"orient": "top", "values": [-400, -200, 0, 200, 400], "tickSize": -7, "labels": false, "title": null}},
    "y": {"field": "d", "type": "quantitative", "axis": {"orient": "right", "values": [900, 1000, 1100], "tickSize": -7, "labels": false, "title": null}}}},
  {"mark": {"type": "line", "strokeOpacity": 0, "clip": true},
   "encoding": {
    "x": {"field": "t", "type": "quantitative", "axis": {"orient": "bottom", "values": [-500, -300, -100, 100, 300], "tickSize": -4, "labels": false, "title": null}},
    "y": {"field": "d", "type": "quantitative", "axis": {"orient": "left", "values": [860, 880, 920, 940, 960, 980, 1020, 1040, 1060, 1080, 1120, 1140], "tickSize": -4, "labels": false, "title": null}}}},
  {"mark": {"type": "line", "strokeOpacity": 0, "clip": true},
   "encoding": {
    "x": {"field": "t", "type": "quantitative", "axis": {"orient": "top", "values": [-500, -300, -100, 100, 300], "tickSize": -4, "labels": false, "title": null}},
    "y": {"field": "d", "type": "quantitative", "axis": {"orient": "right", "values": [860, 880, 920, 940, 960, 980, 1020, 1040, 1060, 1080, 1120, 1140], "tickSize": -4, "labels": false, "title": null}}}}
 ],
 "resolve": {"axis": {"x": "independent", "y": "independent"}}
},
{
 "width": 604, "height": 90,
 "title": {"text": "TH0123", "anchor": "end", "frame": "group", "baseline": "top", "offset": -25.5, "dx": -8, "fontSize": 16, "fontWeight": "normal", "font": "Liberation Sans", "color": "#000"},
 "layer": [
  {"mark": {"type": "line", "color": "#ff00ff", "strokeWidth": 3, "opacity": 0.3, "clip": true},
   "encoding": {
    "x": {"field": "t", "type": "quantitative", "scale": {"domain": [-522, 433], "nice": false, "zero": false}, "axis": {"orient": "bottom", "values": [-400, -200, 0, 200, 400], "tickSize": -7, "labels": true, "labelPadding": 11, "title": "Time [sec] 0 = 2006/02/17 09:47:42", "titlePadding": 3}},
    "y": {"field": "e", "type": "quantitative", "scale": {"domain": [2200, 3000], "nice": false, "zero": false}, "axis": {"orient": "left", "values": [2200, 2400, 2600, 2800, 3000], "format": "d", "tickSize": -7, "labelPadding": 18, "title": null}}}},
  {"mark": {"type": "line", "color": "#ff00ff", "strokeWidth": 1, "clip": true},
   "encoding": {
    "x": {"field": "t", "type": "quantitative", "axis": {"orient": "top", "values": [-400, -200, 0, 200, 400], "tickSize": -7, "labels": false, "title": null}},
    "y": {"field": "e", "type": "quantitative", "axis": {"orient": "right", "values": [2200, 2400, 2600, 2800, 3000], "tickSize": -7, "labels": false, "title": null}}}},
  {"mark": {"type": "line", "strokeOpacity": 0, "clip": true},
   "encoding": {
    "x": {"field": "t", "type": "quantitative", "axis": {"orient": "bottom", "values": [-500, -300, -100, 100, 300], "tickSize": -4, "labels": false, "title": null}},
    "y": {"field": "e", "type": "quantitative", "axis": {"orient": "left", "values": [2300, 2500, 2700, 2900], "tickSize": -4, "labels": false, "title": null}}}},
  {"mark": {"type": "line", "strokeOpacity": 0, "clip": true},
   "encoding": {
    "x": {"field": "t", "type": "quantitative", "axis": {"orient": "top", "values": [-500, -300, -100, 100, 300], "tickSize": -4, "labels": false, "title": null}},
    "y": {"field": "e", "type": "quantitative", "axis": {"orient": "right", "values": [2300, 2500, 2700, 2900], "tickSize": -4, "labels": false, "title": null}}}}
 ],
 "resolve": {"axis": {"x": "independent", "y": "independent"}}
}
]
}
